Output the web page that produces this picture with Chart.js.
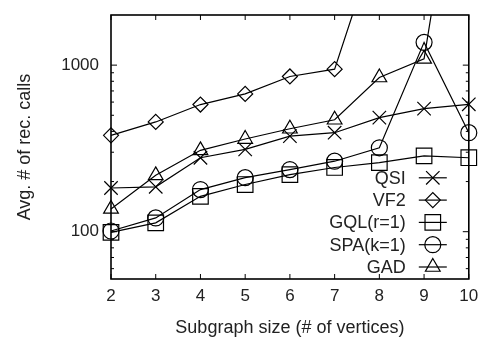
<!DOCTYPE html>
<html>
<head>
<meta charset="utf-8">
<script src="https://cdn.jsdelivr.net/npm/chart.js@4.4.1/dist/chart.umd.min.js"></script>
<style>
  html, body { margin: 0; padding: 0; background: #fff; }
</style>
</head>
<body>
<canvas id="recCalls" width="481" height="339"></canvas>
<script>
// subgraph sizes on the x axis
const sizes = ['2', '3', '4', '5', '6', '7', '8', '9', '10'];

// average number of recursive calls per algorithm
const qsi = [183, 186, 278, 312, 375, 393, 484, 548, 582];
const vf2 = [379, 456, 580, 672, 855, 946, 6200, null, null];
const gql = [99, 113, 163, 192, 220, 243, 260, 285, 278];
const spa = [101, 121, 179, 211, 236, 265, 319, 1370, 393];
const gad = [137, 218, 308, 360, 415, 470, 843, 1090, 50000];

const yLabels = [100, 1000];

const FONT = '"Liberation Sans", Arial, Helvetica, sans-serif';
Chart.defaults.font.family = FONT;
Chart.defaults.font.size = 17;
Chart.defaults.color = '#222';

function series(label, data, pointStyle, radius) {
  return {
    label: label,
    data: data,
    borderColor: '#000',
    borderWidth: 1.2,
    pointStyle: pointStyle,
    pointRadius: radius,
    pointHoverRadius: radius,
    pointBorderColor: '#000',
    pointBackgroundColor: 'rgba(0,0,0,0)',
    pointBorderWidth: 1.2,
    tension: 0,
    spanGaps: false
  };
}

function isDecade(v) {
  const l = Math.log10(v);
  return Math.abs(l - Math.round(l)) < 1e-9;
}

// box round the plot with gnuplot-style inward ticks on all four sides
const frame = {
  id: 'frame',
  afterDatasetsDraw(chart) {
    const { ctx, chartArea: a, scales: { x, y } } = chart;
    ctx.save();
    ctx.strokeStyle = '#000';
    ctx.lineWidth = 1;
    ctx.beginPath();
    x.ticks.forEach((t, i) => {
      const px = x.getPixelForTick(i);
      ctx.moveTo(px, a.bottom); ctx.lineTo(px, a.bottom - 5);
      ctx.moveTo(px, a.top); ctx.lineTo(px, a.top + 5);
    });
    y.ticks.forEach(t => {
      const py = y.getPixelForValue(t.value);
      if (py < a.top + 1 || py > a.bottom - 1) return;
      const len = isDecade(t.value) ? 6 : 3;
      ctx.moveTo(a.left, py); ctx.lineTo(a.left + len, py);
      ctx.moveTo(a.right, py); ctx.lineTo(a.right - len, py);
    });
    ctx.stroke();
    ctx.lineWidth = 1.6;
    ctx.strokeRect(a.left, a.top, a.width, a.height);
    ctx.restore();
  }
};

// key in the lower right corner: label, then line sample with marker
const key = {
  id: 'key',
  afterDatasetsDraw(chart) {
    const { ctx, chartArea: a } = chart;
    const sets = chart.data.datasets;
    ctx.save();
    ctx.font = '18px ' + FONT;
    ctx.textAlign = 'right';
    ctx.textBaseline = 'middle';
    sets.forEach((ds, i) => {
      const yy = a.bottom - 12 - (sets.length - 1 - i) * 22.3;
      ctx.fillStyle = '#222';
      ctx.fillText(ds.label, a.right - 63, yy + 1);
      ctx.strokeStyle = '#000';
      ctx.lineWidth = 1.2;
      ctx.beginPath();
      ctx.moveTo(a.right - 50, yy);
      ctx.lineTo(a.right - 22, yy);
      ctx.stroke();
      ctx.fillStyle = 'rgba(0,0,0,0)';
      Chart.helpers.drawPoint(ctx, {
        pointStyle: ds.pointStyle,
        radius: ds.pointRadius,
        rotation: 0,
        borderWidth: 1.2
      }, a.right - 36, yy);
    });
    ctx.restore();
  }
};

new Chart(document.getElementById('recCalls'), {
  type: 'line',
  data: {
    labels: sizes,
    datasets: [
      series('QSI', qsi, 'crossRot', 9.5),
      series('VF2', vf2, 'rectRot', 7.5),
      series('GQL(r=1)', gql, 'rect', 11),
      series('SPA(k=1)', spa, 'circle', 8),
      series('GAD', gad, 'triangle', 8.5)
    ]
  },
  options: {
    responsive: false,
    animation: false,
    events: [],
    layout: { padding: { top: 15, right: 10, left: 0, bottom: 0 } },
    plugins: {
      legend: { display: false },
      tooltip: { enabled: false }
    },
    scales: {
      x: {
        type: 'category',
        offset: false,
        grid: { display: false, drawTicks: false },
        border: { display: false },
        ticks: { padding: 7, font: { size: 17 }, color: '#222', maxRotation: 0, autoSkip: false },
        title: {
          display: true,
          text: 'Subgraph size (# of vertices)',
          font: { size: 18 },
          color: '#222',
          padding: { top: 0, bottom: 0 }
        },
        afterFit(scale) {
          scale.height = 60;
          scale.paddingLeft = 0;
          scale.paddingRight = 0;
        }
      },
      y: {
        type: 'logarithmic',
        min: 52,
        max: 2000,
        grid: { display: false, drawTicks: false },
        border: { display: false },
        ticks: {
          padding: 12,
          autoSkip: false,
          font: { size: 17 },
          color: '#222',
          callback: v => yLabels.includes(v) ? String(v) : ''
        },
        afterBuildTicks(scale) {
          // keep 1..9 x 10^n only
          scale.ticks = scale.ticks.filter(t => {
            const m = t.value / Math.pow(10, Math.floor(Math.log10(t.value) + 1e-9));
            return Math.abs(m - Math.round(m)) < 1e-6;
          });
        },
        title: {
          display: true,
          text: 'Avg. # of rec. calls',
          font: { size: 18 },
          color: '#222',
          padding: { top: 14, bottom: 0 }
        },
        afterFit(scale) {
          scale.width = 111;
          scale.paddingTop = 0;
          scale.paddingBottom = 0;
        }
      }
    }
  },
  plugins: [frame, key]
});
</script>
</body>
</html>
